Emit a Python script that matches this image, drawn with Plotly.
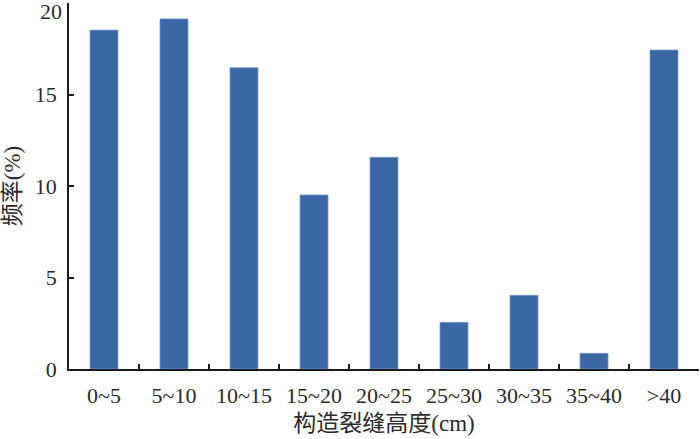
import plotly.graph_objects as go

categories = ["0~5", "5~10", "10~15", "15~20", "20~25", "25~30", "30~35", "35~40", ">40"]
frequency = [18.52, 19.13, 16.46, 9.51, 11.57, 2.55, 4.03, 0.86, 17.43]
y_ticks = [0, 5, 10, 15, 20]
x_title = "构造裂缝高度(cm)"
y_title = "频率(%)"

font_family = "Liberation Serif, Times New Roman, Noto Sans CJK SC, serif"
text_color = "#2b2b2b"

fig = go.Figure(
    go.Bar(
        x=categories,
        y=frequency,
        marker=dict(color="#3B67A5", line=dict(color="#7A9BCF", width=0.8)),
        width=0.4,
    )
)

fig.update_layout(
    width=700,
    height=439,
    margin=dict(l=69, r=1, t=3, b=70, autoexpand=False),
    plot_bgcolor="white",
    paper_bgcolor="white",
    font=dict(family=font_family, size=22, color=text_color),
    showlegend=False,
)

fig.update_xaxes(
    type="category",
    range=[-0.5, len(categories) - 0.5],
    automargin=False,
    showline=True,
    linecolor="#1a1a1a",
    linewidth=1.6,
    ticks="inside",
    ticklen=5,
    tickwidth=1.5,
    tickcolor="#1a1a1a",
    tickson="boundaries",
    showgrid=False,
    ticklabelstandoff=6,
    tickfont=dict(size=22, family=font_family, color=text_color),
    title=dict(text=x_title, standoff=8, font=dict(size=23, family=font_family, color=text_color)),
)

fig.update_yaxes(
    range=[0, 20],
    automargin=False,
    tickvals=y_ticks,
    ticktext=[str(v) if v != 20 else "" for v in y_ticks],
    showline=True,
    linecolor="#1a1a1a",
    linewidth=1.6,
    ticks="inside",
    ticklen=5,
    tickwidth=1.5,
    tickcolor="#1a1a1a",
    showgrid=False,
    zeroline=False,
    ticklabelstandoff=6,
    tickfont=dict(size=22, family=font_family, color=text_color),
    title=dict(text=y_title, standoff=12, font=dict(size=23, family=font_family, color=text_color)),
)

fig.add_annotation(
    x=0, xref="paper", xanchor="right", xshift=-5,
    y=y_ticks[-1], yref="y", yanchor="top", yshift=6,
    text=str(y_ticks[-1]), showarrow=False,
    font=dict(size=22, family=font_family, color=text_color),
)

fig.write_html(
    "out.html",
    config={"displayModeBar": False},
    post_script="document.body.style.margin='0';document.body.style.overflow='hidden';",
)
